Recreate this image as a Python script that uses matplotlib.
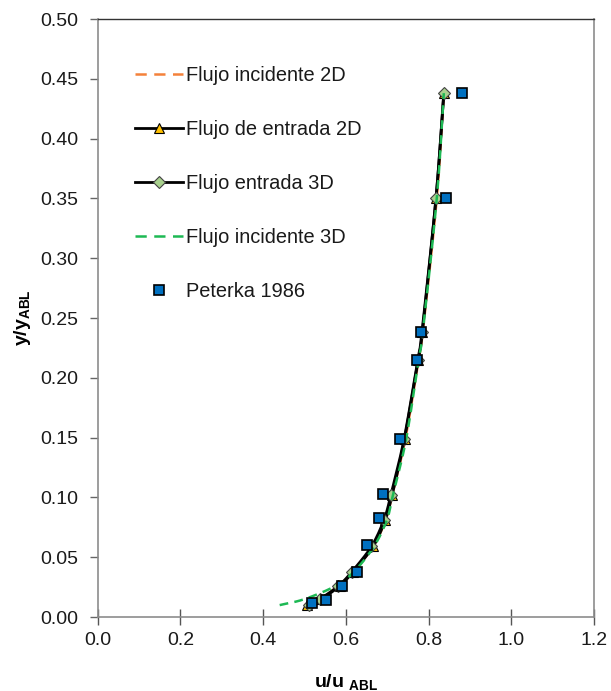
import numpy as np
import matplotlib
matplotlib.use("Agg")
import matplotlib.pyplot as plt
from matplotlib.lines import Line2D

plt.rcParams['font.family'] = ['Liberation Sans', 'DejaVu Sans']
plt.rcParams['mathtext.fontset'] = 'custom'
plt.rcParams['mathtext.rm'] = 'Liberation Sans'
plt.rcParams['mathtext.it'] = 'Liberation Sans:italic'
plt.rcParams['mathtext.bf'] = 'Liberation Sans:bold'

# ---- data ----
y_peterka = [0.0117, 0.0145, 0.0262, 0.0374, 0.060, 0.083, 0.1026, 0.149, 0.215, 0.238, 0.350, 0.438]
u_peterka = [0.519, 0.552, 0.591, 0.628, 0.652, 0.681, 0.690, 0.732, 0.771, 0.781, 0.842, 0.882]

y_model = [0.010, 0.015, 0.026, 0.038, 0.059, 0.081, 0.102, 0.149, 0.215, 0.238, 0.350, 0.438]
u_entrada_2d = [0.506, 0.540, 0.585, 0.618, 0.666, 0.695, 0.712, 0.742, 0.775, 0.785, 0.818, 0.837]
u_entrada_3d = [0.510, 0.537, 0.582, 0.615, 0.662, 0.692, 0.709, 0.741, 0.774, 0.784, 0.818, 0.837]
u_incidente_2d = [0.500, 0.535, 0.582, 0.618, 0.666, 0.696, 0.712, 0.744, 0.776, 0.786, 0.820, 0.837]
u_incidente_3d = [0.440, 0.500, 0.575, 0.620, 0.668, 0.699, 0.714, 0.746, 0.776, 0.786, 0.820, 0.837]

labels = ["Flujo incidente 2D", "Flujo de entrada 2D", "Flujo entrada 3D",
          "Flujo incidente 3D", "Peterka 1986"]
x_ticks = [0.0, 0.2, 0.4, 0.6, 0.8, 1.0, 1.2]
y_ticks = [0.00, 0.05, 0.10, 0.15, 0.20, 0.25, 0.30, 0.35, 0.40, 0.45, 0.50]


def smooth(x, y, n=30):
    """Catmull-Rom smoothing (like spreadsheet 'smoothed line')."""
    p = np.column_stack([x, y]).astype(float)
    p = np.vstack([2 * p[0] - p[1], p, 2 * p[-1] - p[-2]])
    out = []
    t = np.linspace(0, 1, n, endpoint=False)
    for i in range(1, len(p) - 2):
        p0, p1, p2, p3 = p[i - 1], p[i], p[i + 1], p[i + 2]
        tt = t[:, None]
        seg = 0.5 * ((2 * p1) + (-p0 + p2) * tt + (2 * p0 - 5 * p1 + 4 * p2 - p3) * tt ** 2
                     + (-p0 + 3 * p1 - 3 * p2 + p3) * tt ** 3)
        out.append(seg)
    out.append(p[-2][None, :])
    s = np.vstack(out)
    return s[:, 0], s[:, 1]


fig = plt.figure(figsize=(6.11, 6.91), dpi=100)
ax = fig.add_axes([0.160, 0.107, 0.812, 0.8655])

c_orange = '#F4813A'
c_green = '#1DB954'
c_tri = '#FFC000'
c_dia = '#A9D18E'
c_sq = '#0070C0'
dash = (0, (3.5, 2.5))

xs, ys = smooth(u_incidente_2d, y_model)
ax.plot(xs, ys, color=c_orange, lw=1.8, ls=dash, zorder=2)

xs, ys = smooth(u_entrada_2d, y_model)
ax.plot(xs, ys, color='black', lw=2.0, zorder=3)
ax.plot(u_entrada_2d, y_model, ls='none', marker='^', ms=6.5, mfc=c_tri, mec='black', mew=0.8, zorder=4)

xs, ys = smooth(u_entrada_3d, y_model)
ax.plot(xs, ys, color='black', lw=2.0, zorder=5)
ax.plot(u_entrada_3d, y_model, ls='none', marker='D', ms=6, mfc=c_dia, mec='#444444', mew=0.8, zorder=6)

xs, ys = smooth(u_incidente_3d, y_model)
ax.plot(xs, ys, color=c_green, lw=1.8, ls=dash, zorder=7)

ax.plot(u_peterka, y_peterka, ls='none', marker='s', ms=7, mfc=c_sq, mec='black', mew=1.2, zorder=8)

ax.set_xlim(0, 1.2)
ax.set_ylim(0, 0.5)
ax.set_xticks(x_ticks)
ax.set_xticklabels([f"{v:.1f}" for v in x_ticks])
ax.set_yticks(y_ticks)
ax.set_yticklabels([f"{v:.2f}" for v in y_ticks])
ax.tick_params(axis='x', direction='inout', length=11, width=1, color='#555555',
               labelsize=14, pad=5, labelcolor='#1a1a1a')
ax.tick_params(axis='y', direction='out', length=6, width=1, color='#666666',
               labelsize=14, pad=8, labelcolor='#1a1a1a')

for s in ['left', 'right', 'bottom']:
    ax.spines[s].set_color('#8c8c8c')
    ax.spines[s].set_linewidth(1.2)
ax.spines['top'].set_color('#333333')
ax.spines['top'].set_linewidth(1.0)

ax.set_xlabel(r'$\mathbf{u/u}$ $\mathbf{_{ABL}}$', fontsize=14, labelpad=17)
ax.set_ylabel(r'$\mathbf{y/y_{ABL}}$', fontsize=14, labelpad=5)

handles = [
    Line2D([], [], color=c_orange, lw=1.8, ls=(0, (4.5, 3))),
    Line2D([], [], color='black', lw=2.0, marker='^', ms=6.5, mfc=c_tri, mec='black', mew=0.8),
    Line2D([], [], color='black', lw=2.0, marker='D', ms=6, mfc=c_dia, mec='#444444', mew=0.8),
    Line2D([], [], color=c_green, lw=1.8, ls=(0, (4.5, 3))),
    Line2D([], [], ls='none', marker='s', ms=7, mfc=c_sq, mec='black', mew=1.2),
]
leg = ax.legend(handles, labels, loc='upper left', bbox_to_anchor=(0.0746, 0.921),
                frameon=False, fontsize=14.4, handlelength=2.4, handletextpad=0.15,
                labelspacing=1.75, borderpad=0, borderaxespad=0)
for t in leg.get_texts():
    t.set_color('#1a1a1a')

fig.savefig('out.png', dpi=100)
